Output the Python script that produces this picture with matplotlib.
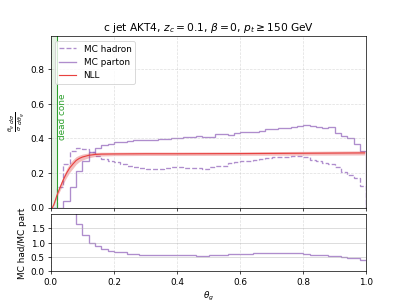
import numpy as np
import matplotlib
matplotlib.use('Agg')
from matplotlib import pyplot as plt

# bin edges for theta_g (50 bins of 0.02)
edges = np.linspace(0, 1, 51)

# MC parton level distribution
mc_parton = [0.0, 0.0, 0.035, 0.12, 0.21, 0.27, 0.32, 0.345, 0.36, 0.37,
             0.378, 0.38, 0.385, 0.39, 0.39, 0.39, 0.39, 0.398, 0.398, 0.404,
             0.404, 0.41, 0.41, 0.414, 0.41, 0.41, 0.425, 0.425, 0.42, 0.433,
             0.437, 0.437, 0.437, 0.445, 0.453, 0.455, 0.458, 0.462, 0.466, 0.47,
             0.476, 0.47, 0.465, 0.458, 0.468, 0.433, 0.414, 0.40, 0.37, 0.325]

# MC hadron level distribution
mc_hadron = [0.0, 0.12, 0.25, 0.325, 0.345, 0.34, 0.32, 0.30, 0.28, 0.27,
             0.262, 0.252, 0.24, 0.235, 0.228, 0.225, 0.222, 0.222, 0.228, 0.232,
             0.233, 0.228, 0.228, 0.226, 0.22, 0.232, 0.24, 0.242, 0.255, 0.262,
             0.268, 0.272, 0.275, 0.28, 0.288, 0.29, 0.292, 0.295, 0.298, 0.30,
             0.292, 0.275, 0.267, 0.255, 0.25, 0.237, 0.205, 0.19, 0.168, 0.124]

# NLL prediction with uncertainty band
nll_theta = [0.005, 0.01, 0.02, 0.03, 0.04, 0.05, 0.06, 0.07, 0.08, 0.09,
             0.10, 0.12, 0.14, 0.16, 0.20, 0.30, 0.40, 0.60, 0.80, 0.995]
nll_val = [0.0, 0.02, 0.075, 0.12, 0.163, 0.2, 0.23, 0.252, 0.272, 0.284,
           0.292, 0.302, 0.307, 0.309, 0.31, 0.311, 0.311, 0.312, 0.314, 0.316]
nll_err = [0.0, 0.006, 0.012, 0.018, 0.022, 0.025, 0.026, 0.025, 0.022, 0.019,
           0.017, 0.014, 0.012, 0.011, 0.01, 0.01, 0.01, 0.01, 0.011, 0.012]

dead_cone = 0.02

#%% compute the ratio
mc_parton = np.array(mc_parton)
mc_hadron = np.array(mc_hadron)
ratio = np.divide(mc_hadron, mc_parton, out=np.full(len(mc_parton), np.nan),
                  where=mc_parton > 0)

nll_theta = np.array(nll_theta)
nll_val = np.array(nll_val)
nll_err = np.array(nll_err)

#%% plot
fig, (ax, ax_r) = plt.subplots(2, 1, figsize=(6.4, 4.8), sharex=True,
                               gridspec_kw={'height_ratios': [3, 1], 'hspace': 0.06})

ax.axvspan(0, dead_cone, color='green', alpha=0.1, lw=0)
ax.axvline(dead_cone, color='tab:green', lw=1.2)
ax.text(dead_cone + 0.004, 0.39, 'dead cone', color='tab:green',
        rotation=90, ha='left', va='bottom')

ax.stairs(mc_hadron, edges, color='tab:purple', alpha=0.75, ls='--',
          lw=1.5, label='MC hadron')
ax.stairs(mc_parton, edges, color='tab:purple', alpha=0.75,
          lw=1.5, label='MC parton')
ax.plot(nll_theta, nll_val, color='#e8413f', lw=1.3, label='NLL')
ax.fill_between(nll_theta, nll_val - nll_err, nll_val + nll_err,
                color='tab:red', alpha=0.3, lw=0)

ax.set_xlim(0, 1)
ax.set_ylim(0, 0.99)
ax.set_ylabel(r'$\frac{\theta_g}{\sigma}\frac{d\sigma}{d\theta_g}$')
ax.set_title(r'c jet AKT4, $z_c = 0.1$, $\beta = 0$, $p_t \geq 150$ GeV')
ax.grid(ls='--', alpha=0.4)
ax.legend(loc='upper left')

ax_r.stairs(ratio, edges, baseline=None, color='tab:purple', alpha=0.75, lw=1.5)
ax_r.set_ylim(0, 1.99)
ax_r.set_yticks([0.0, 0.5, 1.0, 1.5])
ax_r.set_xlabel(r'$\theta_g$')
ax_r.set_ylabel('MC had/MC part')
ax_r.grid(axis='x', ls='--', alpha=0.4)
ax_r.grid(axis='y', alpha=0.6)

plt.savefig('out.png', dpi=407 / 6.4)
